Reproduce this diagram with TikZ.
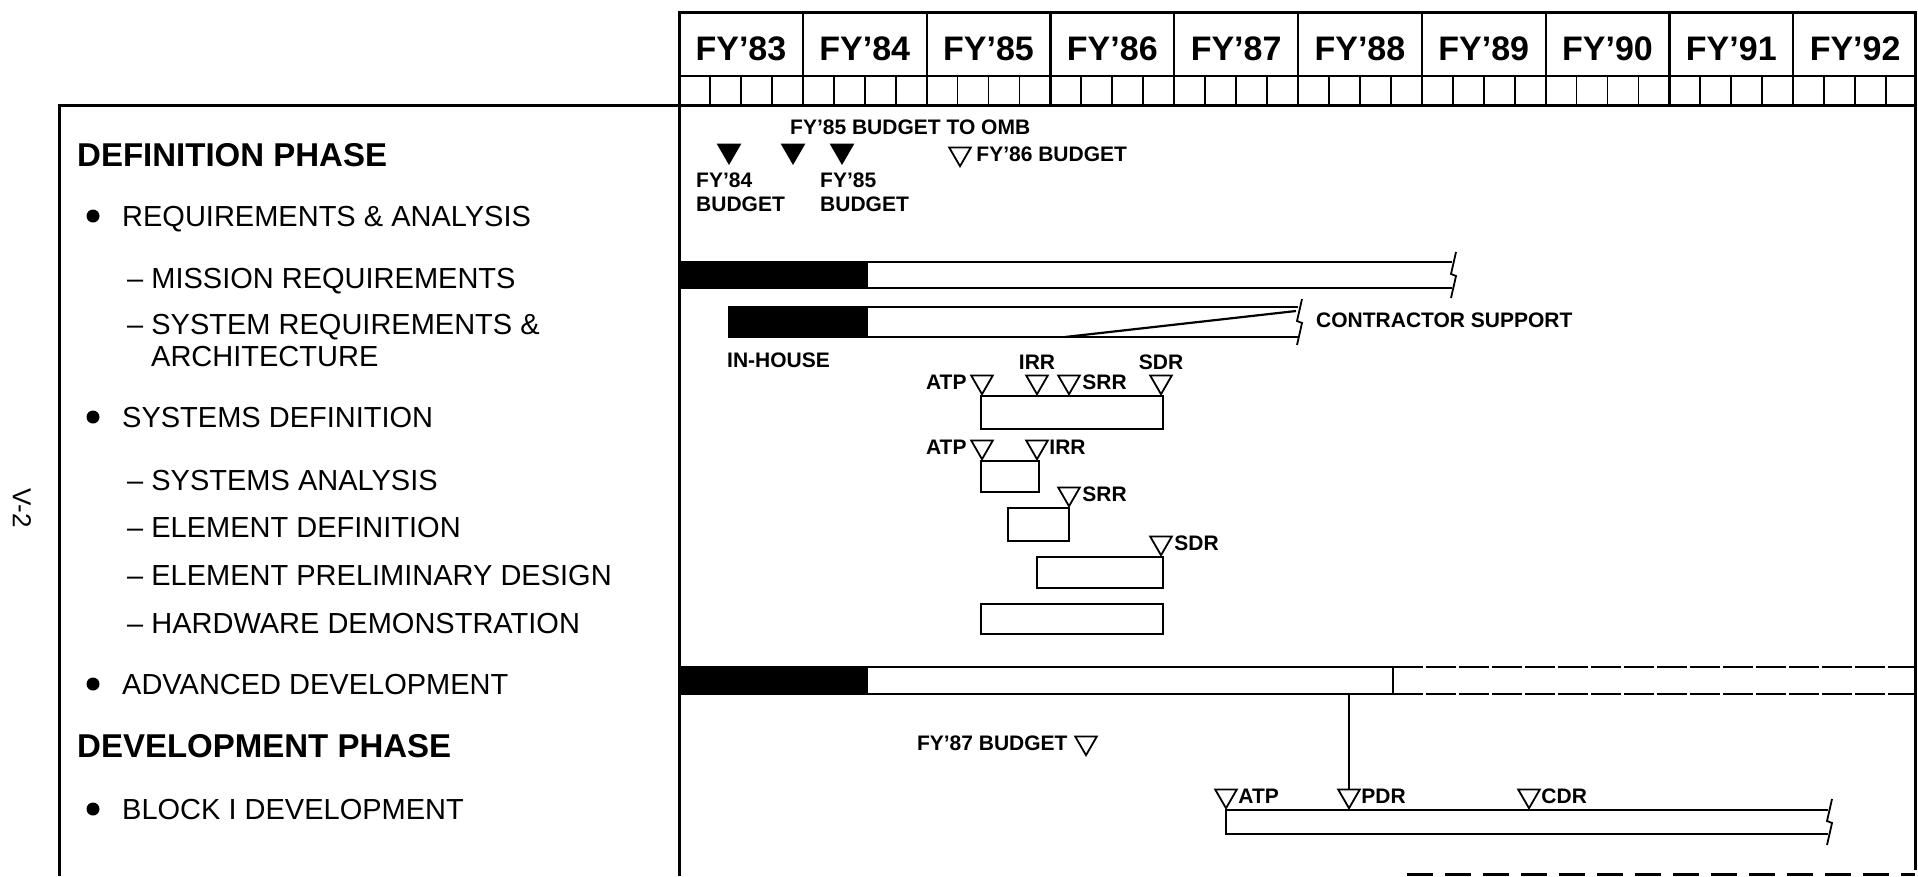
\documentclass[tikz,border=0pt]{standalone}
\usepackage{fontspec}
\setmainfont{Liberation Sans}
\usetikzlibrary{positioning,shapes.geometric}

\begin{document}
\begin{tikzpicture}[
  x=1pt, y=-1pt,
  frame/.style={line width=3pt},
  barline/.style={line width=2.2pt},
  item/.style={anchor=west, inner sep=0pt, text height=20.8pt, text depth=0pt,
    font=\fontsize{29}{32}\selectfont},
  head/.style={anchor=west, inner sep=0pt, text height=23.6pt, text depth=0pt,
    font=\fontsize{33}{36}\selectfont\bfseries},
  year/.style={inner sep=0pt, text height=24.3pt, text depth=0pt,
    font=\fontsize{34}{36}\selectfont\bfseries},
  lbl/.style={inner sep=0pt, text height=15pt, text depth=0pt,
    font=\fontsize{21}{24}\selectfont\bfseries},
  ms/.style={draw, line width=1.8pt, regular polygon, regular polygon sides=3,
    shape border rotate=180, inner sep=0pt, minimum size=25pt, anchor=south},
  msfill/.style={ms, fill=black},
  dot/.style={circle, fill=black, inner sep=0pt, minimum size=13pt},
  brk/.pic={\draw[line width=1.8pt] (4,-23) -- (-1,-1) -- (4,1) -- (-1,23);}
]
\useasboundingbox (0,0) rectangle (1918,876);

% frames
\draw[frame] (679,876) -- (679,12) -- (1915,12) -- (1915,870);
\draw[frame] (59,876) -- (59,105) -- (1915,105);
\draw[frame, dash pattern=on 26pt off 12pt] (1407,874) -- (1915,874);

% fiscal year header
\draw[barline] (679,76) -- (1915,76);
\foreach \i in {1,...,9}
  \draw[barline] ({679+123.8*\i},12) -- ++(0,93);
\foreach \i in {0,...,9}
  \foreach \q in {1,2,3}
    \draw[line width=1.8pt] ({679+123.8*\i+30.95*\q},76) -- ++(0,29);
\foreach \yr [count=\i from 0] in {83,...,92}
  \node[year] (fy\yr) at ({679+123.8*(\i+.5)},48) {FY'\yr};

% activity list
\node[head] (defph) at (77,155) {DEFINITION PHASE};
\node[dot] (d1) at (93,216) {};
\node[item] (reqan) at (122,216) {REQUIREMENTS \& ANALYSIS};
\node[item] (misreq) at (127,278) {-- MISSION REQUIREMENTS};
\node[item] (sysreq) at (127,324) {-- SYSTEM REQUIREMENTS \&};
\node[item] (arch) at (151,356) {ARCHITECTURE};
\node[dot] (d2) at (93,417) {};
\node[item] (sysdef) at (122,417) {SYSTEMS DEFINITION};
\node[item] (sysan) at (127,480) {-- SYSTEMS ANALYSIS};
\node[item] (eldef) at (127,527) {-- ELEMENT DEFINITION};
\node[item] (elpre) at (127,575) {-- ELEMENT PRELIMINARY DESIGN};
\node[item] (hwdem) at (127,623) {-- HARDWARE DEMONSTRATION};
\node[dot] (d3) at (93,684) {};
\node[item] (advdev) at (122,684) {ADVANCED DEVELOPMENT};
\node[head] (devph) at (77,746) {DEVELOPMENT PHASE};
\node[dot] (d4) at (93,809) {};
\node[item] (blk1) at (122,809) {BLOCK I DEVELOPMENT};
\node[rotate=-90, font=\fontsize{26}{28}\selectfont] (pg) at (22,508) {V-2};

% budget milestones
\node[msfill] (b84) at (729,165) {};
\node[msfill] (b85omb) at (793,165) {};
\node[msfill] (b85) at (842,165) {};
\node[lbl, anchor=west] (ombt) at (790,127) {FY'85 BUDGET TO OMB};
\node[lbl, anchor=west] (b84t) at (696,180) {FY'84};
\node[lbl, anchor=west] (b84u) at (696,204) {BUDGET};
\node[lbl, anchor=west] (b85t) at (820,180) {FY'85};
\node[lbl, anchor=west] (b85u) at (820,204) {BUDGET};
\node[ms] (b86) at (960,168) {};
\node[lbl, right=8pt of b86] (b86t) {FY'86 BUDGET};

% mission requirements
\fill (679,262) rectangle (868,288);
\draw[barline] (679,262) -- (1452,262) (679,288) -- (1452,288);
\pic at (1452,275) {brk};

% system requirements: in-house / contractor
\fill (729,307) rectangle (868,337);
\draw[barline] (1298,307) -- (729,307) -- (729,337) -- (1298,337);
\draw[barline] (1065,337) -- (1296,311);
\pic at (1298,322) {brk};
\node[lbl, anchor=west] (cont) at (1316,320) {CONTRACTOR SUPPORT};
\node[lbl, anchor=west] (inh) at (727,360) {IN-HOUSE};

% systems definition
\draw[barline] (981,396) rectangle (1163,429);
\node[ms] (atpS) at (982,396) {};
\node[ms] (irrS) at (1037,396) {};
\node[ms] (srrS) at (1069,396) {};
\node[ms] (sdrS) at (1161,396) {};
\node[lbl, left=7pt of atpS] (atpSt) {ATP};
\node[lbl, above=5pt of irrS] (irrSt) {IRR};
\node[lbl, right=5pt of srrS] (srrSt) {SRR};
\node[lbl, above=5pt of sdrS] (sdrSt) {SDR};

% systems analysis
\draw[barline] (981,461) rectangle (1039,492);
\node[ms] (atpA) at (982,461) {};
\node[ms] (irrA) at (1037,461) {};
\node[lbl, left=7pt of atpA] (atpAt) {ATP};
\node[lbl, right=4pt of irrA] (irrAt) {IRR};

% element definition
\draw[barline] (1008,508) rectangle (1069,541);
\node[ms] (srrE) at (1069,508) {};
\node[lbl, right=5pt of srrE] (srrEt) {SRR};

% element preliminary design
\draw[barline] (1037,557) rectangle (1163,588);
\node[ms] (sdrP) at (1161,557) {};
\node[lbl, right=5pt of sdrP] (sdrPt) {SDR};

% hardware demonstration
\draw[barline] (981,604) rectangle (1163,634);

% advanced development
\fill (679,667) rectangle (868,694);
\draw[barline] (679,667) -- (1393,667) -- (1393,694) -- (679,694);
\draw[barline, dash pattern=on 30pt off 3pt] (1393,667) -- (1915,667) (1393,694) -- (1915,694);
\coordinate (advPDR) at (1349,694);

% block I development
\node[ms] (b87) at (1086,757) {};
\node[lbl, left=10pt of b87] (b87t) {FY'87 BUDGET};
\draw[barline] (1828,810) -- (1226,810) -- (1226,834) -- (1828,834);
\pic at (1828,822) {brk};
\node[ms] (atpB) at (1226,810) {};
\node[ms] (pdrB) at (1349,810) {};
\node[ms] (cdrB) at (1529,810) {};
\node[lbl, right=4pt of atpB] (atpBt) {ATP};
\node[lbl, right=4pt of pdrB] (pdrBt) {PDR};
\node[lbl, right=4pt of cdrB] (cdrBt) {CDR};
\draw[barline] (advPDR) -- (pdrB.north);
\end{tikzpicture}
\end{document}
